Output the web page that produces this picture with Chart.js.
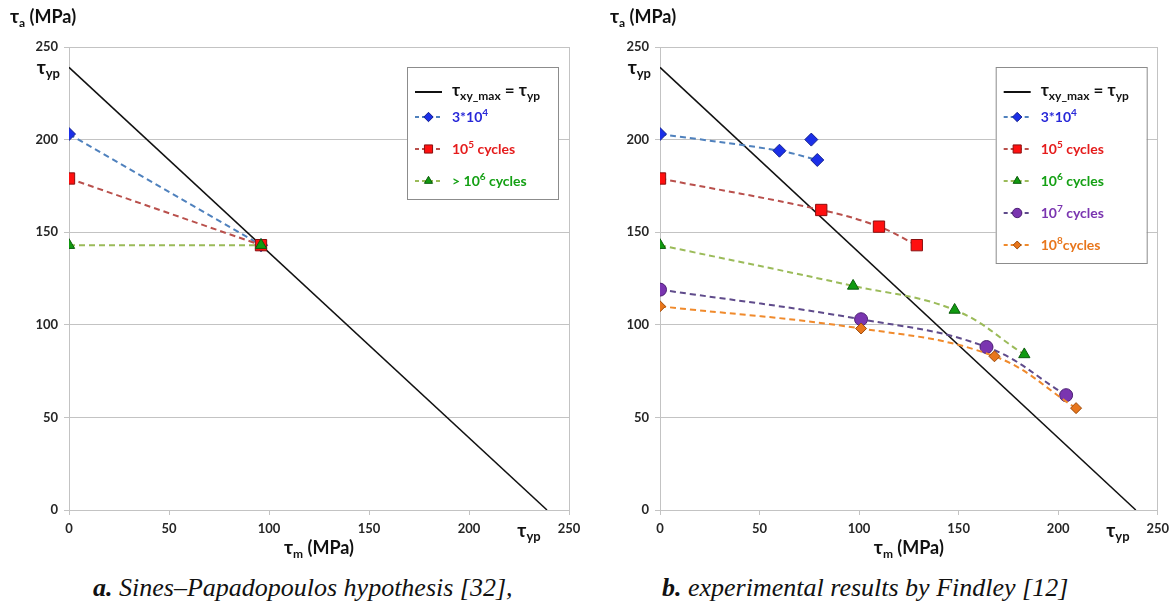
<!DOCTYPE html>
<html>
<head>
<meta charset="utf-8">
<script src="https://cdn.jsdelivr.net/npm/chart.js@4.4.1/dist/chart.umd.min.js"></script>
<style>
  body { margin: 0; background: #fff; width: 1175px; height: 606px; position: relative; overflow: hidden; }
  #wrapA { position: absolute; left: 0; top: 0; width: 590px; height: 560px; }
  #wrapB { position: absolute; left: 590px; top: 0; width: 585px; height: 560px; }
  .cap { position: absolute; top: 573px; font: italic 26px "Liberation Serif", "Times New Roman", serif; color: #111; white-space: nowrap; }
  .cap b { font-weight: bold; }
</style>
</head>
<body>
<div id="wrapA"><canvas id="chartA"></canvas></div>
<div id="wrapB"><canvas id="chartB"></canvas></div>
<div class="cap" style="left:93px"><b>a.</b> Sines–Papadopoulos hypothesis [32],</div>
<div class="cap" style="left:662px"><b>b.</b> experimental results by Findley [12]</div>
<script>
// shear yield limit, used for the tau_xy_max = tau_yp line
const tauYp = 239;
const limitX = [0, tauYp];
const limitY = [tauYp, 0];

// a. Sines-Papadopoulos
const sinesX = [0, 96];
const sines3e4 = [203, 143];
const sines1e5 = [179, 143];
const sines1e6 = [143, 143];

// b. Findley
const f3e4X = [0, 60, 79];
const f3e4Y = [203, 194, 189];
const f3e4ExtraX = [76];
const f3e4ExtraY = [200];
const f1e5X = [0, 81, 110, 129];
const f1e5Y = [179, 162, 153, 143];
const f1e6X = [0, 97, 148, 183];
const f1e6Y = [143, 121, 108, 84];
const f1e7X = [0, 101, 164, 204];
const f1e7Y = [119, 103, 88, 62];
const f1e8X = [0, 101, 168, 209];
const f1e8Y = [110, 98, 83, 55];

const xTicks = [0, 50, 100, 150, 200, 250];
const yTicks = [0, 50, 100, 150, 200, 250];

const FONT = 'Lato, "Open Sans", sans-serif';
const GRID = '#c3c3c3';

const styles = {
  e4: { line: '#4f81bd', fill: '#1b2fe8', border: '#13208f', style: 'rectRot', r: 6.5, text: '#2828d8', order: 6 },
  e5: { line: '#b9504c', fill: '#ff1010', border: '#8a0f0f', style: 'rect', r: 8, text: '#e51c1c', order: 5 },
  e6: { line: '#9bbb59', fill: '#109a10', border: '#0b5c0b', style: 'triangle', r: 6.5, text: '#14a014', order: 4 },
  e7: { line: '#5f4b8b', fill: '#7a35b0', border: '#4c1f73', style: 'circle', r: 6.5, text: '#7a35b0', order: 3 },
  e8: { line: '#f08a2c', fill: '#e8761c', border: '#9c4a0a', style: 'rectRot', r: 5.5, text: '#e8761c', order: 2 }
};

const pts = (xs, ys) => xs.map((x, i) => ({ x: x, y: ys[i] }));

function limitSet() {
  return {
    data: pts(limitX, limitY), showLine: true, borderColor: '#111', borderWidth: 1.5,
    pointRadius: 0, tension: 0, order: 10
  };
}

function series(xs, ys, s, smooth, line) {
  return {
    data: pts(xs, ys), showLine: line !== false, borderColor: s.line, borderWidth: 2,
    borderDash: [6, 4], pointStyle: s.style, pointRadius: s.r, pointHoverRadius: s.r,
    pointBackgroundColor: s.fill, pointBorderColor: s.border, pointBorderWidth: 1,
    tension: smooth ? 0.4 : 0, order: s.order
  };
}

// draws text made of pieces, some of them raised or lowered
function rich(ctx, parts, x, y, color, align) {
  let w = 0;
  parts.forEach(p => { ctx.font = 'bold ' + p.s + 'px ' + FONT; w += ctx.measureText(p.t).width; });
  let cx = align === 'right' ? x - w : align === 'center' ? x - w / 2 : x;
  ctx.save();
  ctx.textBaseline = 'alphabetic';
  ctx.textAlign = 'left';
  ctx.fillStyle = color;
  parts.forEach(p => {
    ctx.font = 'bold ' + p.s + 'px ' + FONT;
    ctx.fillText(p.t, cx, y + (p.dy || 0));
    cx += ctx.measureText(p.t).width;
  });
  ctx.restore();
}

const tauTitle = [{ t: 'τ', s: 19 }, { t: 'yp', s: 13, dy: 4 }];

function makeDeco(cfg) {
  return {
    id: 'deco',
    afterDraw(chart) {
      const ctx = chart.ctx;
      const a = chart.chartArea;
      const xs = chart.scales.x, ys = chart.scales.y;
      // axis titles
      rich(ctx, [{ t: 'τ', s: 19 }, { t: 'a', s: 12, dy: 4 }, { t: ' (MPa)', s: 18 }], a.left - cfg.yTitleOff, 23, '#111', 'left');
      rich(ctx, [{ t: 'τ', s: 19 }, { t: 'm', s: 12, dy: 4 }, { t: ' (MPa)', s: 18 }], (a.left + a.right) / 2, 554, '#111', 'center');
      // tau_yp marks on both axes
      rich(ctx, tauTitle, a.left - 9, ys.getPixelForValue(tauYp) + 7, '#111', 'right');
      rich(ctx, tauTitle, xs.getPixelForValue(tauYp - 9), a.bottom + 27, '#111', 'center');

      // legend box
      const bx = a.right - 162, by = a.top + 20, bw = 151;
      const bh = 25 + 25 + 32 * (cfg.legend.length - 1) - 32 + 32 + 18;
      ctx.save();
      ctx.fillStyle = '#fff';
      ctx.strokeStyle = '#8c8c8c';
      ctx.lineWidth = 1;
      ctx.fillRect(bx, by, bw, bh);
      ctx.strokeRect(bx + 0.5, by + 0.5, bw, bh);
      // limit line entry
      let ry = by + 25;
      ctx.strokeStyle = '#111';
      ctx.lineWidth = 2;
      ctx.beginPath(); ctx.moveTo(bx + 8, ry); ctx.lineTo(bx + 35, ry); ctx.stroke();
      ctx.restore();
      rich(ctx, [{ t: 'τ', s: 17 }, { t: 'xy_max', s: 12, dy: 4 }, { t: ' = τ', s: 17 }, { t: 'yp', s: 12, dy: 4 }], bx + 45, ry + 4, '#111', 'left');
      ry += 25;
      cfg.legend.forEach(item => {
        const s = item.st;
        ctx.save();
        ctx.strokeStyle = s.line;
        ctx.lineWidth = 2;
        ctx.setLineDash([4, 3]);
        ctx.beginPath(); ctx.moveTo(bx + 8, ry); ctx.lineTo(bx + 35, ry); ctx.stroke();
        ctx.setLineDash([]);
        ctx.fillStyle = s.fill;
        ctx.strokeStyle = s.border;
        ctx.lineWidth = 1;
        Chart.helpers.drawPoint(ctx, { pointStyle: s.style, radius: s.r * 0.72, rotation: 0, borderWidth: 1 }, bx + 21.5, ry);
        ctx.restore();
        rich(ctx, item.parts, bx + 45, ry + 5, s.text, 'left');
        ry += 32;
      });
    }
  };
}

function baseOptions(yWidth, rightPad) {
  return {
    responsive: true,
    maintainAspectRatio: false,
    animation: false,
    layout: { padding: { left: 0, top: 47, right: rightPad, bottom: 0 } },
    plugins: { legend: { display: false }, tooltip: { enabled: false } },
    scales: {
      x: {
        type: 'linear', min: 0, max: 250,
        afterBuildTicks: s => { s.ticks = xTicks.map(v => ({ value: v })); },
        afterFit: s => { s.height = 50; },
        ticks: { color: '#262626', font: { family: FONT, size: 13, weight: 'bold' }, padding: 6 },
        grid: {
          color: c => (c.tick && c.tick.value === 250 ? GRID : 'rgba(0,0,0,0)'),
          tickColor: GRID, tickLength: 5, lineWidth: 1
        },
        border: { color: GRID }
      },
      y: {
        type: 'linear', min: 0, max: 250,
        afterBuildTicks: s => { s.ticks = yTicks.map(v => ({ value: v })); },
        afterFit: s => { s.width = yWidth; },
        ticks: { color: '#262626', font: { family: FONT, size: 13, weight: 'bold' }, padding: 6 },
        grid: { color: GRID, tickColor: GRID, tickLength: 5, lineWidth: 1 },
        border: { color: GRID }
      }
    }
  };
}

new Chart(document.getElementById('chartA'), {
  type: 'scatter',
  data: {
    datasets: [
      limitSet(),
      series(sinesX, sines3e4, styles.e4, false),
      series(sinesX, sines1e5, styles.e5, false),
      series(sinesX, sines1e6, styles.e6, false)
    ]
  },
  options: baseOptions(69, 21),
  plugins: [makeDeco({
    yTitleOff: 59,
    legend: [
      { st: styles.e4, parts: [{ t: '3*10', s: 14 }, { t: '4', s: 10, dy: -6 }] },
      { st: styles.e5, parts: [{ t: '10', s: 14 }, { t: '5', s: 10, dy: -6 }, { t: ' cycles', s: 14 }] },
      { st: styles.e6, parts: [{ t: '> 10', s: 14 }, { t: '6', s: 10, dy: -6 }, { t: ' cycles', s: 14 }] }
    ]
  })]
});

new Chart(document.getElementById('chartB'), {
  type: 'scatter',
  data: {
    datasets: [
      limitSet(),
      series(f3e4X, f3e4Y, styles.e4, true),
      series(f3e4ExtraX, f3e4ExtraY, styles.e4, false, false),
      series(f1e5X, f1e5Y, styles.e5, true),
      series(f1e6X, f1e6Y, styles.e6, true),
      series(f1e7X, f1e7Y, styles.e7, true),
      series(f1e8X, f1e8Y, styles.e8, true)
    ]
  },
  options: baseOptions(70, 15),
  plugins: [makeDeco({
    yTitleOff: 50,
    legend: [
      { st: styles.e4, parts: [{ t: '3*10', s: 14 }, { t: '4', s: 10, dy: -6 }] },
      { st: styles.e5, parts: [{ t: '10', s: 14 }, { t: '5', s: 10, dy: -6 }, { t: ' cycles', s: 14 }] },
      { st: styles.e6, parts: [{ t: '10', s: 14 }, { t: '6', s: 10, dy: -6 }, { t: ' cycles', s: 14 }] },
      { st: styles.e7, parts: [{ t: '10', s: 14 }, { t: '7', s: 10, dy: -6 }, { t: ' cycles', s: 14 }] },
      { st: styles.e8, parts: [{ t: '10', s: 14 }, { t: '8', s: 10, dy: -6 }, { t: 'cycles', s: 14 }] }
    ]
  })]
});
</script>
</body>
</html>
